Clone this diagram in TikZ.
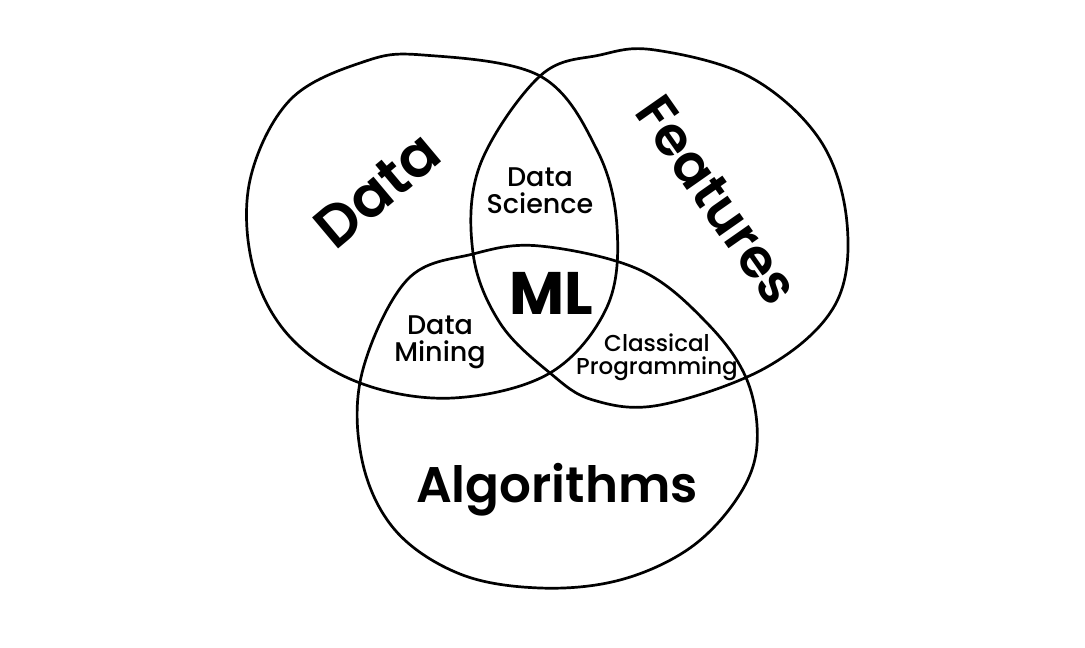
\documentclass[tikz,border=0pt]{standalone}
\usepackage{fontspec}
\setmainfont{Poppins}
\newfontfamily\medfont{Poppins Medium}
\newfontfamily\semifont{Poppins SemiBold}
\begin{document}
\begin{tikzpicture}[x=1pt,y=-1pt,
  ring/.style={line width=2.7pt, line join=round},
  lbl/.style={font=\medfont\fontsize{#1}{#1}\selectfont, inner sep=0pt, align=center},
  big/.style={font=\semifont\fontsize{#1}{#1}\selectfont, inner sep=0pt, align=center}]
\useasboundingbox[fill=white] (0,0) rectangle (1085,648);
% the three sets, drawn freehand
\draw[ring] plot[smooth cycle, tension=0.6] coordinates {
  (423,55) (540,76) (597,150) (617,227) (607,307) (550,373) (453,398)
  (360,383) (290,337) (253,267) (250,180) (290,100) (363,62)};
\draw[ring] plot[smooth cycle, tension=0.6] coordinates {
  (655,50) (750,77) (820,140) (847,223) (835,305) (767,367) (660,405)
  (593,400) (550,373) (500,323) (473,253) (480,165) (540,76) (600,55)};
\draw[ring] plot[smooth cycle, tension=0.6] coordinates {
  (540,246) (640,270) (707,323) (747,380) (757,445) (738,497) (690,548)
  (620,580) (540,588) (460,574) (395,530) (362,460) (362,373) (407,280) (473,254)};
% set names
\node[big=58, rotate=40] (data) at (377,190) {Data};
\node[big=54, rotate=-55] (feat) at (717,200) {Features};
\node[big=50] (algo) at (557,490) {Algorithms};
% overlaps
\node[lbl=27] (ds) at (540,191) {Data\\Science};
\node[lbl=27] (dm) at (440,342) {Data\\Mining};
\node[lbl=23] (cp) at (657,357) {Classical\\Programming};
\node[font=\fontsize{60}{60}\selectfont\bfseries, inner sep=0pt] (ml) at (551,293) {ML};
\end{tikzpicture}
\end{document}
